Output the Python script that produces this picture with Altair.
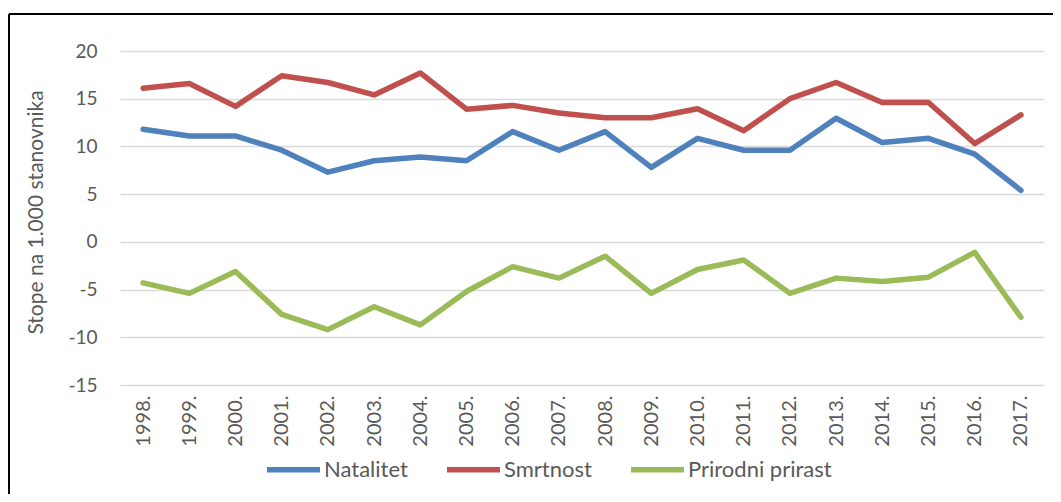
import altair as alt
import pandas as pd

years = ["1998.", "1999.", "2000.", "2001.", "2002.", "2003.", "2004.", "2005.", "2006.", "2007.",
         "2008.", "2009.", "2010.", "2011.", "2012.", "2013.", "2014.", "2015.", "2016.", "2017."]
natalitet = [11.8, 11.1, 11.1, 9.6, 7.3, 8.5, 8.9, 8.5, 11.55, 9.6,
             11.55, 7.8, 10.85, 9.6, 9.6, 12.95, 10.4, 10.85, 9.2, 5.4]
smrtnost = [16.1, 16.6, 14.2, 17.4, 16.7, 15.4, 17.7, 13.9, 14.3, 13.5,
            13.0, 13.0, 13.95, 11.65, 15.0, 16.7, 14.6, 14.6, 10.3, 13.3]
prirast = [-4.3, -5.4, -3.1, -7.6, -9.2, -6.8, -8.7, -5.2, -2.6, -3.8,
           -1.5, -5.4, -2.9, -1.9, -5.4, -3.8, -4.15, -3.7, -1.1, -7.9]
series_names = ["Natalitet", "Smrtnost", "Prirodni prirast"]
series_colors = ["#4F81BD", "#C0504D", "#9BBB59"]
y_ticks = [-15, -10, -5, 0, 5, 10, 15, 20]

rows = []
for name, vals in zip(series_names, [natalitet, smrtnost, prirast]):
    for y, v in zip(years, vals):
        rows.append({"Godina": y, "Serija": name, "Vrijednost": v})
df = pd.DataFrame(rows)

TXT = "#595959"
W, H = 924, 334

lines = alt.Chart(df).mark_line(strokeWidth=5.5, strokeCap="round", strokeJoin="round").encode(
    x=alt.X("Godina:N", sort=years, title=None,
            scale=alt.Scale(type="point", padding=0.5),
            axis=alt.Axis(labelAngle=-90, domain=False, ticks=False, grid=False,
                          labelPadding=10, labelColor=TXT, labelFontSize=20)),
    y=alt.Y("Vrijednost:Q", title="Stope na 1.000 stanovnika",
            scale=alt.Scale(domain=[-15, 20], nice=False, zero=False),
            axis=alt.Axis(values=y_ticks, domain=False, ticks=False, grid=True,
                          gridColor="#D9D9D9", gridWidth=1.6,
                          labelExpr="datum.value < 0 ? '-' + abs(datum.value) : datum.label",
                          labelPadding=23, labelColor=TXT, labelFontSize=19,
                          titleColor=TXT, titleFontSize=21, titleFontWeight="normal",
                          titleX=-84, titleY=H / 2 - 6, titleAngle=-90, titleBaseline="middle",
                          titleAlign="center")),
    color=alt.Color("Serija:N", sort=series_names,
                    scale=alt.Scale(domain=series_names, range=series_colors),
                    legend=alt.Legend(title=None, orient="none", direction="horizontal",
                                      legendX=144, legendY=389,
                                      symbolType="stroke", symbolSize=2809, symbolStrokeWidth=5.5,
                                      labelFontSize=22, labelColor=TXT, labelOffset=1,
                                      columnPadding=28)),
)

frame = pd.DataFrame({"k": [0]})
left_border = alt.Chart(frame).mark_rule(color="black", strokeWidth=2).encode(
    x=alt.value(-111), y=alt.value(-37), y2=alt.value(H + 120))
top_border = alt.Chart(frame).mark_rule(color="black", strokeWidth=2).encode(
    x=alt.value(-111), x2=alt.value(W + 20), y=alt.value(-37))

chart = alt.layer(lines, left_border, top_border).properties(
    width=W, height=H,
    autosize=alt.AutoSizeParams(type="none"),
    padding={"left": 112, "top": 43, "right": 9, "bottom": 109},
    background="white",
).configure(font="Lato").configure_view(stroke=None)

chart.save("out.html", embed_options={"renderer": "svg", "actions": False})
